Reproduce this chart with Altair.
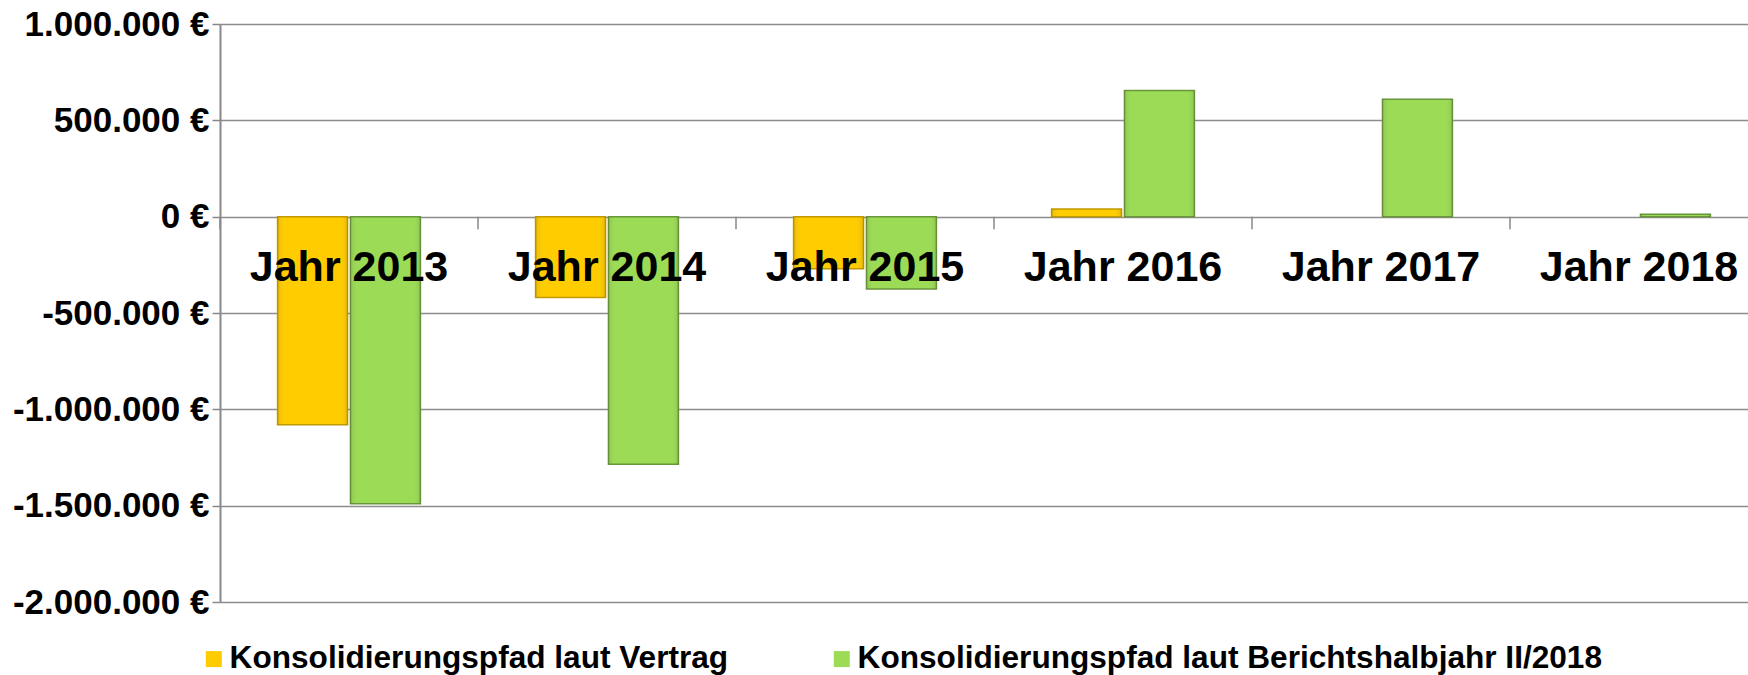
import altair as alt
import pandas as pd

years = ["Jahr 2013", "Jahr 2014", "Jahr 2015", "Jahr 2016", "Jahr 2017", "Jahr 2018"]
series = ["Konsolidierungspfad laut Vertrag",
          "Konsolidierungspfad laut Berichtshalbjahr II/2018"]
vertrag = [-1080000, -420000, -270000, 40000, 0, 0]
bericht = [-1490000, -1285000, -375000, 655000, 610000, 12000]
y_ticks = [-2000000, -1500000, -1000000, -500000, 0, 500000, 1000000]
fill_colors = ["#FFCC00", "#9BDB55"]
edge_colors = ["#C29A00", "#6A963A"]

rows = []
for i, yr in enumerate(years):
    rows.append({"year": yr, "series": series[0], "value": vertrag[i]})
    rows.append({"year": yr, "series": series[1], "value": bericht[i]})
df = pd.DataFrame(rows)
yr_df = pd.DataFrame({"year": years})

FONT = "Liberation Sans"
xscale = alt.Scale(domain=years, range=[0, 1548], paddingInner=0, paddingOuter=0)
yscale = alt.Scale(domain=[-2000000, 1000000], nice=False, zero=False)
xoff_scale = alt.Scale(domain=series, paddingInner=0.04, paddingOuter=0.79)

label_expr = ("(datum.value < 0 ? '-' : '') + "
              "replace(format(abs(datum.value), ',d'), regexp(',', 'g'), '.') + ' €'")

base = alt.Chart(df).transform_filter("datum.value != 0")

bars = base.mark_bar(strokeWidth=1.5).encode(
    x=alt.X("year:N", scale=xscale, axis=None, sort=years),
    xOffset=alt.XOffset("series:N", sort=series, scale=xoff_scale),
    y=alt.Y("value:Q", scale=yscale, title=None,
            axis=alt.Axis(values=y_ticks, labelExpr=label_expr, labelFont=FONT,
                          labelFontWeight="bold", labelFontSize=35, labelColor="black",
                          labelLimit=400, labelPadding=3, tickSize=8,
                          tickColor="#888888", tickWidth=1.5,
                          domainColor="#888888", domainWidth=2, gridColor="#8c8c8c",
                          gridWidth=1.5, grid=True)),
    y2=alt.datum(0),
    color=alt.Color("series:N", scale=alt.Scale(domain=series, range=fill_colors),
                    legend=alt.Legend(orient="none", legendX=-22, legendY=619,
                                      direction="horizontal", title=None,
                                      symbolType="square", symbolSize=256,
                                      symbolStrokeWidth=0,
                                      labelFont=FONT, labelFontWeight="bold",
                                      labelFontSize=31.6, labelColor="black",
                                      labelLimit=1000, labelOffset=0,
                                      columnPadding=97)),
    stroke=alt.Stroke("series:N", scale=alt.Scale(domain=series, range=edge_colors),
                      legend=None),
)

shade = base.mark_bar(
    strokeWidth=0,
    color=alt.Gradient(
        gradient="linear", x1=0, x2=1, y1=0, y2=0,
        stops=[alt.GradientStop(color="rgba(0,0,0,0.10)", offset=0),
               alt.GradientStop(color="rgba(255,255,255,0)", offset=0.12),
               alt.GradientStop(color="rgba(255,255,255,0)", offset=0.88),
               alt.GradientStop(color="rgba(0,0,0,0.10)", offset=1)]),
).encode(
    x=alt.X("year:N", scale=xscale, axis=None, sort=years),
    xOffset=alt.XOffset("series:N", sort=series, scale=xoff_scale),
    y=alt.Y("value:Q", scale=yscale),
    y2=alt.datum(0),
)

ticks = alt.Chart(yr_df).mark_rule(color="#888888", strokeWidth=1.5).encode(
    x=alt.X("year:N", scale=xscale, axis=None, bandPosition=0),
    y=alt.datum(0),
    y2=alt.datum(-65000),
)

labels = alt.Chart(yr_df).mark_text(font=FONT, fontWeight="bold", fontSize=43,
                                    color="black", baseline="middle").encode(
    x=alt.X("year:N", scale=xscale, axis=None),
    y=alt.datum(-267000),
    text="year:N",
)

chart = alt.layer(bars, shade, ticks, labels).properties(
    width=1528, height=578,
    autosize=alt.AutoSizeParams(type="none"),
    padding={"left": 220, "top": 24, "right": 0, "bottom": 73},
    background="white",
).configure_view(stroke=None)

chart.save("out.html", embed_options={"renderer": "svg", "actions": False})
